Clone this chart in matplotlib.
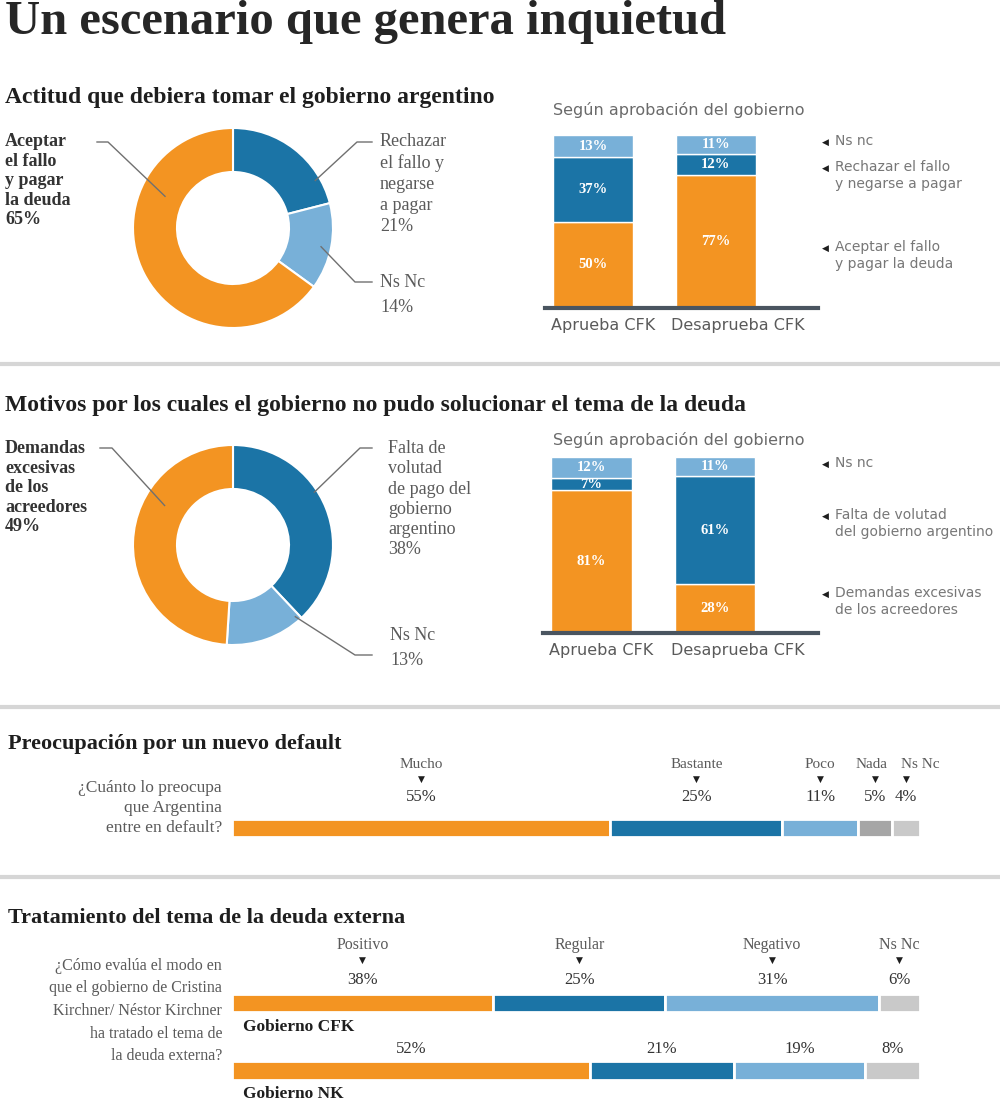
import matplotlib
matplotlib.use('Agg')
import matplotlib.pyplot as plt
from matplotlib.lines import Line2D
import numpy as np

W, H = 1000, 1100

# --- data ---------------------------------------------------------------
titulo = 'Un escenario que genera inquietud'

# actitud que debiera tomar el gobierno (donut, clockwise from top)
actitud_labels = ['Rechazar\nel fallo y\nnegarse\na pagar', 'Ns Nc', 'Aceptar\nel fallo\ny pagar\nla deuda']
actitud_vals = [21, 14, 65]

grupos = ['Aprueba CFK', 'Desaprueba CFK']
actitud_aceptar = [50, 77]
actitud_rechazar = [37, 12]
actitud_nsnc = [13, 11]
actitud_leyenda = ['Ns nc', 'Rechazar el fallo\ny negarse a pagar', 'Aceptar el fallo\ny pagar la deuda']

# motivos (donut, clockwise from top)
motivos_labels = ['Falta de\nvolutad\nde pago del\ngobierno\nargentino', 'Ns Nc', 'Demandas\nexcesivas\nde los\nacreedores']
motivos_vals = [38, 13, 49]

motivos_demandas = [81, 28]
motivos_falta = [7, 61]
motivos_nsnc = [12, 11]
motivos_leyenda = ['Ns nc', 'Falta de volutad\ndel gobierno argentino', 'Demandas excesivas\nde los acreedores']

# preocupacion por un nuevo default
preoc_cats = ['Mucho', 'Bastante', 'Poco', 'Nada', 'Ns Nc']
preoc_vals = [55, 25, 11, 5, 4]

# tratamiento de la deuda externa
trat_cats = ['Positivo', 'Regular', 'Negativo', 'Ns Nc']
trat_cfk = [38, 25, 31, 6]
trat_nk = [52, 21, 19, 8]

# --- style --------------------------------------------------------------
ORANGE = '#F39422'
DARK = '#1B74A6'
LIGHT = '#78B0D8'
GRAY1 = '#A6A6A6'
GRAY2 = '#C9C9C9'
TXT = '#5a5a5a'
INK = '#1e1e1e'
SERIF = 'Liberation Serif'
SANS = 'DejaVu Sans'

fig = plt.figure(figsize=(10, 11), dpi=100)
fig.patch.set_facecolor('white')


def fx(x):
    return x / W


def fy(y):
    return 1 - y / H


def text(x, y, s, **kw):
    kw.setdefault('family', SERIF)
    kw.setdefault('color', TXT)
    return fig.text(fx(x), fy(y), s, **kw)


def line(xs, ys, **kw):
    kw.setdefault('color', '#707070')
    kw.setdefault('lw', 1)
    fig.add_artist(Line2D([fx(v) for v in xs], [fy(v) for v in ys],
                          transform=fig.transFigure, **kw))


def donut(cx, cy, r, vals, colors):
    ax = fig.add_axes([fx(cx - r), fy(cy + r), 2 * r / W, 2 * r / H])
    ax.pie(vals, colors=colors, startangle=90, counterclock=False, radius=1,
           wedgeprops=dict(width=0.44, edgecolor='white', linewidth=1.5))
    ax.set_xlim(-1, 1)
    ax.set_ylim(-1, 1)
    ax.axis('off')
    return ax


def leader(cx, cy, r, ang, rad, x0, x1, y):
    a = np.deg2rad(ang)
    px = cx + rad * r * np.cos(a)
    py = cy - rad * r * np.sin(a)
    line([x0, x1, px], [y, y, py])


def stacked(x0, x1, ytop, ybase, capas, colores):
    ax = fig.add_axes([fx(x0), fy(ybase), (x1 - x0) / W, (ybase - ytop) / H])
    pos = np.arange(len(grupos))
    bottom = np.zeros(len(grupos))
    for vals, c in zip(capas, colores):
        vals = np.array(vals, dtype=float)
        ax.bar(pos, vals, bottom=bottom, width=0.65, color=c, edgecolor='white', linewidth=1)
        for p, b, v in zip(pos, bottom, vals):
            ax.text(p, b + v / 2, f'{int(v)}%', ha='center', va='center', color='white',
                    fontsize=10.5, fontweight='bold', family=SERIF)
        bottom += vals
    ax.set_xlim(-0.39, 1.83)
    ax.set_ylim(0, 100)
    for s in ['top', 'right', 'left']:
        ax.spines[s].set_visible(False)
    ax.spines['bottom'].set_color('#4a5560')
    ax.spines['bottom'].set_linewidth(3)
    ax.set_yticks([])
    ax.set_xticks(pos + np.array([0.08, 0.18]))
    ax.set_xticklabels(grupos, fontsize=11.5, color=TXT, family=SANS)
    ax.tick_params(axis='x', length=0, pad=7)
    ax.patch.set_alpha(0)
    return ax


def legend(x, items, ys):
    for s, y in zip(items, ys):
        text(x, y, '\u25C0', family=SANS, fontsize=6.5, color=INK, va='center')
        text(x + 13, y - 8, s, fontsize=10, va='top', linespacing=1.25,
             family=SANS, color='#777777')


def hbar(x0, x1, ytop, ybot, vals, colores):
    ax = fig.add_axes([fx(x0), fy(ybot), (x1 - x0) / W, (ybot - ytop) / H])
    left = np.concatenate([[0], np.cumsum(vals)[:-1]])
    ax.barh(0, vals, left=left, height=1, color=colores, edgecolor='white', linewidth=2)
    ax.set_xlim(0, sum(vals))
    ax.set_ylim(-0.5, 0.5)
    ax.axis('off')
    centros = left + np.array(vals) / 2
    return ax, centros


def bar_labels(x0, x1, vals, centros, cats, y_cat, y_tri, y_pct, cat_size=11.5, cat_dx=None):
    for i, (c, v) in enumerate(zip(centros, vals)):
        x = x0 + c / sum(vals) * (x1 - x0)
        if cats is not None:
            dx = cat_dx[i] if cat_dx else 0
            text(x + dx, y_cat, cats[i], ha='center', va='center', fontsize=cat_size, color=TXT)
            text(x, y_tri, '\u25BC', ha='center', va='center', fontsize=6.5, color=INK,
                 family=SANS)
        text(x, y_pct, f'{v}%', ha='center', va='center', fontsize=12, color='#333333')


# --- title --------------------------------------------------------------
text(5, 34, titulo, fontsize=35, fontweight='bold', color='#262626', va='baseline')

# separators
for ys in [364, 707, 877]:
    line([0, 1000], [ys, ys], color='#d6d6d6', lw=3)

# --- section 1 ----------------------------------------------------------
text(5, 97, 'Actitud que debiera tomar el gobierno argentino', fontsize=17,
     fontweight='bold', color=INK, va='center')

cx, cy, r = 233, 228, 100
donut(cx, cy, r, actitud_vals, [DARK, LIGHT, ORANGE])
text(5, 133, actitud_labels[2] + f'\n{actitud_vals[2]}%', fontsize=13, fontweight='bold',
     color='#333333', va='top', linespacing=1.2)
text(380, 133, actitud_labels[0] + f'\n{actitud_vals[0]}%', fontsize=13, va='top', linespacing=1.3)
text(380, 274, actitud_labels[1] + f'\n{actitud_vals[1]}%', fontsize=13, va='top', linespacing=1.65)
leader(cx, cy, r, 155, 0.75, 97, 108, 142)
leader(cx, cy, r, 30, 0.95, 372, 357, 142)
leader(cx, cy, r, -12, 0.9, 372, 355, 282)

text(553, 110, 'Según aprobación del gobierno', fontsize=11.5, va='center', family=SANS,
     color='#6a6a6a')
stacked(545, 818, 135, 308, [actitud_aceptar, actitud_rechazar, actitud_nsnc], [ORANGE, DARK, LIGHT])
legend(822, actitud_leyenda, [142, 168, 248])

# --- section 2 ----------------------------------------------------------
text(5, 405, 'Motivos por los cuales el gobierno no pudo solucionar el tema de la deuda',
     fontsize=17, fontweight='bold', color=INK, va='center')

cx, cy = 233, 545
donut(cx, cy, r, motivos_vals, [DARK, LIGHT, ORANGE])
text(5, 440, motivos_labels[2] + f'\n{motivos_vals[2]}%', fontsize=13, fontweight='bold',
     color='#333333', va='top', linespacing=1.2)
text(388, 440, motivos_labels[0] + f'\n{motivos_vals[0]}%', fontsize=13, va='top', linespacing=1.25)
text(390, 627, motivos_labels[1] + f'\n{motivos_vals[1]}%', fontsize=13, va='top', linespacing=1.65)
leader(cx, cy, r, 150, 0.79, 100, 112, 448)
leader(cx, cy, r, 33, 0.97, 372, 360, 448)
leader(cx, cy, r, -49, 0.95, 372, 355, 655)

text(553, 440, 'Según aprobación del gobierno', fontsize=11.5, va='center', family=SANS,
     color='#6a6a6a')
stacked(543, 818, 457, 633, [motivos_demandas, motivos_falta, motivos_nsnc], [ORANGE, DARK, LIGHT])
legend(822, motivos_leyenda, [464, 516, 594])

# --- section 3 ----------------------------------------------------------
text(8, 744, 'Preocupación por un nuevo default', fontsize=16, fontweight='bold',
     color=INK, va='center')
text(222, 808, '¿Cuánto lo preocupa\nque Argentina\nentre en default?', fontsize=12.5,
     ha='right', va='center', linespacing=1.3)
ax, centros = hbar(232, 920, 819, 837, preoc_vals, [ORANGE, DARK, LIGHT, GRAY1, GRAY2])
bar_labels(232, 920, preoc_vals, centros, preoc_cats, 764, 779, 797,
           cat_size=11, cat_dx=[0, 0, 0, -4, 14])

# --- section 4 ----------------------------------------------------------
text(8, 918, 'Tratamiento del tema de la deuda externa', fontsize=16, fontweight='bold',
     color=INK, va='center')
text(222, 1011, '¿Cómo evalúa el modo en\nque el gobierno de Cristina\nKirchner/ Néstor Kirchner\n'
     'ha tratado el tema de\nla deuda externa?', fontsize=11.5, ha='right', va='center',
     linespacing=1.55)

colores_trat = [ORANGE, DARK, LIGHT, GRAY2]
ax, centros = hbar(232, 920, 994, 1012, trat_cfk, colores_trat)
bar_labels(232, 920, trat_cfk, centros, trat_cats, 945, 960, 980)
text(243, 1027, 'Gobierno CFK', fontsize=12.5, fontweight='bold', color=INK, va='center')

ax, centros = hbar(232, 920, 1061, 1080, trat_nk, colores_trat)
bar_labels(232, 920, trat_nk, centros, None, 0, 0, 1049)
text(243, 1094, 'Gobierno NK', fontsize=12.5, fontweight='bold', color=INK, va='center')

fig.savefig('out.png', dpi=100, facecolor='white')
